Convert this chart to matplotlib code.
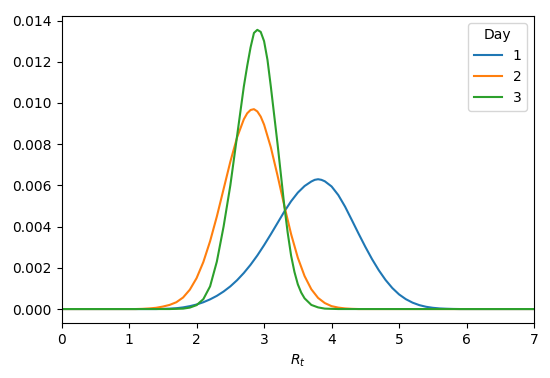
import numpy as np
import matplotlib
matplotlib.use("Agg")
import matplotlib.pyplot as plt

# posterior of R_t per day
r_day1 = [0.0, 1.4, 1.5, 1.6, 1.7, 1.8, 1.9, 2.0, 2.1, 2.2, 2.3, 2.4, 2.5, 2.6, 2.7,
          2.8, 2.9, 3.0, 3.1, 3.2, 3.3, 3.4, 3.5, 3.6, 3.7, 3.75, 3.8, 3.85, 3.9,
          4.0, 4.1, 4.2, 4.3, 4.4, 4.5, 4.6, 4.7, 4.8, 4.9, 5.0, 5.1, 5.2, 5.3,
          5.4, 5.5, 5.6, 5.7, 5.8, 5.9, 7.0]
p_day1 = [0.0, 0.0, 0.00001, 0.00002, 0.00004, 0.00008, 0.00014, 0.00022, 0.00033,
          0.00047, 0.00064, 0.00085, 0.0011, 0.0014, 0.00175, 0.00215, 0.0026,
          0.0031, 0.00363, 0.00418, 0.00473, 0.00523, 0.00565, 0.00597, 0.00619,
          0.00627, 0.0063, 0.00627, 0.0062, 0.00595, 0.00553, 0.00497, 0.00432,
          0.00366, 0.00302, 0.00242, 0.00188, 0.00141, 0.00102, 0.00071, 0.00048,
          0.00031, 0.00019, 0.00011, 0.00006, 0.00003, 0.000015, 0.000005, 0.0, 0.0]

r_day2 = [0.0, 1.1, 1.2, 1.3, 1.4, 1.5, 1.6, 1.7, 1.8, 1.9, 2.0, 2.1, 2.2, 2.3, 2.4,
          2.5, 2.6, 2.7, 2.75, 2.8, 2.85, 2.9, 2.95, 3.0, 3.1, 3.2, 3.3, 3.4, 3.5,
          3.6, 3.7, 3.8, 3.9, 4.0, 4.1, 4.2, 4.3, 4.4, 7.0]
p_day2 = [0.0, 0.0, 0.00001, 0.00003, 0.00006, 0.00012, 0.0002, 0.00033, 0.00056,
          0.00094, 0.0015, 0.00228, 0.00329, 0.00449, 0.00582, 0.00715, 0.00833,
          0.00921, 0.0095, 0.00966, 0.0097, 0.00959, 0.00934, 0.00895, 0.00785,
          0.00647, 0.00501, 0.00364, 0.00249, 0.0016, 0.00096, 0.00054, 0.00029,
          0.00014, 0.00007, 0.00003, 0.00001, 0.0, 0.0]

r_day3 = [0.0, 1.6, 1.7, 1.8, 1.9, 2.0, 2.1, 2.2, 2.3, 2.4, 2.5, 2.6, 2.7, 2.75,
          2.8, 2.85, 2.9, 2.95, 3.0, 3.05, 3.1, 3.15, 3.2, 3.25, 3.3, 3.35, 3.4,
          3.45, 3.5, 3.55, 3.6, 3.7, 3.8, 3.9, 4.0, 4.1, 7.0]
p_day3 = [0.0, 0.0, 0.00001, 0.00002, 0.00007, 0.00019, 0.00048, 0.0011, 0.0023,
          0.0040, 0.0060, 0.0084, 0.0108, 0.0118, 0.0127, 0.0134, 0.01355, 0.01345,
          0.0130, 0.0121, 0.0108, 0.0094, 0.0080, 0.0065, 0.0050, 0.0037, 0.0026,
          0.0018, 0.0012, 0.0008, 0.00052, 0.0002, 0.00008, 0.00002, 0.00001, 0.0,
          0.0]

days = ["1", "2", "3"]

fig = plt.figure(figsize=(5.5, 3.78), dpi=100)
ax = fig.add_axes([0.112, 0.1455, 0.859, 0.8125])

ax.plot(r_day1, p_day1, label=days[0])
ax.plot(r_day2, p_day2, label=days[1])
ax.plot(r_day3, p_day3, label=days[2])

ax.set_xlim(0, 7)
ax.set_xlabel("$R_t$")
ax.legend(title="Day", loc="upper right")

fig.savefig("out.png", dpi=100)
